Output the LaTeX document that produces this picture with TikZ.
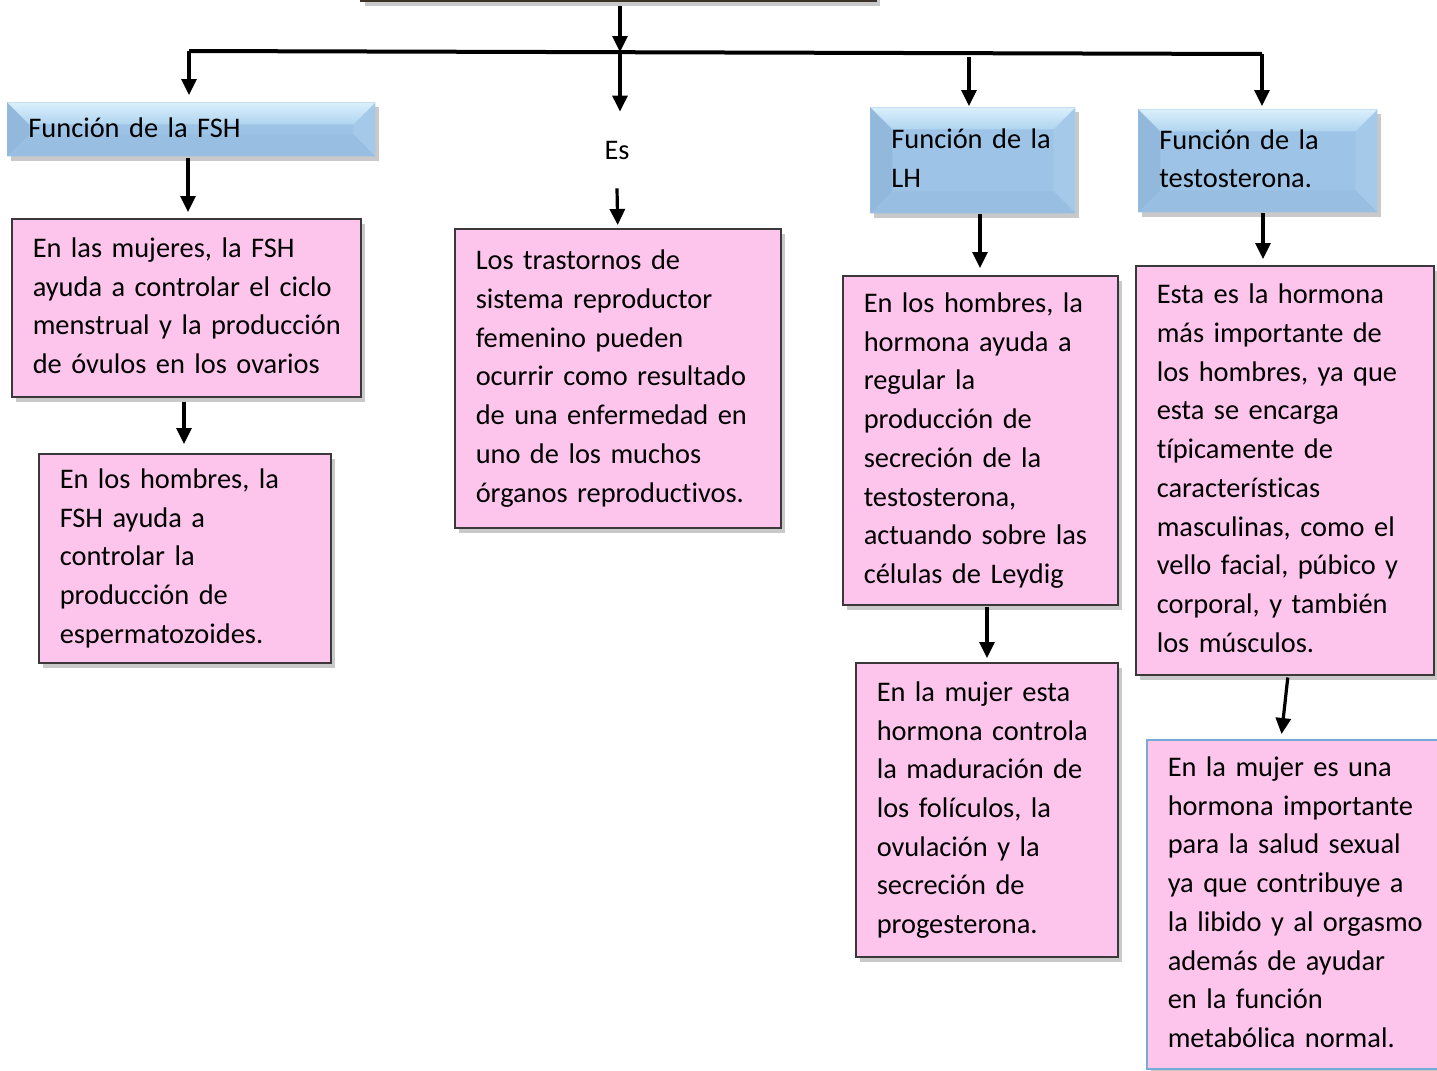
\documentclass[tikz,border=0pt]{standalone}
\usepackage{fontspec}
\setmainfont[Ligatures={NoCommon}]{Carlito}
\usetikzlibrary{arrows.meta,shadows,calc}
\definecolor{pinkfill}{RGB}{253,196,236}
\definecolor{pinkborder}{RGB}{60,56,58}
\definecolor{lightblueborder}{RGB}{120,170,215}
\definecolor{face}{RGB}{157,195,230}
\definecolor{bevtopA}{RGB}{218,240,252}
\definecolor{bevtopB}{RGB}{176,212,239}
\definecolor{bevleft}{RGB}{146,184,220}
\definecolor{bevright}{RGB}{165,201,232}
\definecolor{bevbottom}{RGB}{152,190,225}
\definecolor{topborder}{RGB}{60,50,40}
\newcommand{\txtfont}{\fontsize{14.2}{19.35}\selectfont}
\newcommand{\boxtext}[1]{\begin{tabular}{@{}l@{}}#1\end{tabular}}
\tikzset{
  shad/.style={drop shadow={shadow xshift=2pt,shadow yshift=-2.5pt,opacity=0.3,fill=black!70}},
  pinkbox/.style={draw=pinkborder,line width=0.75pt,fill=pinkfill,anchor=north west,
    inner xsep=10.5pt,inner ysep=2pt,align=left,font=\txtfont,shad},
  bluebox/.style={fill=face,anchor=north west,inner xsep=10.5pt,inner ysep=2pt,align=left,
    font=\txtfont,shad,
    path picture={
      \fill[bevleft] let \p1=(path picture bounding box.south west),\p2=(path picture bounding box.north east) in
        (\x1,\y1) -- (\x1,\y2) -- (\x1+11pt,\y2-11pt) -- (\x1+11pt,\y1+11pt) -- cycle;
      \fill[bevright] let \p1=(path picture bounding box.south west),\p2=(path picture bounding box.north east) in
        (\x2,\y1) -- (\x2,\y2) -- (\x2-11pt,\y2-11pt) -- (\x2-11pt,\y1+11pt) -- cycle;
      \fill[bevbottom] let \p1=(path picture bounding box.south west),\p2=(path picture bounding box.north east) in
        (\x1,\y1) -- (\x2,\y1) -- (\x2-11pt,\y1+11pt) -- (\x1+11pt,\y1+11pt) -- cycle;
      \shade[top color=bevtopA,bottom color=bevtopB] let \p1=(path picture bounding box.south west),\p2=(path picture bounding box.north east) in
        (\x1,\y2) -- (\x2,\y2) -- (\x2-11pt,\y2-11pt) -- (\x1+11pt,\y2-11pt) -- cycle;
    }},
  arr/.style={-{Triangle[width=7.5pt,length=8pt]},line width=1.6pt},
  bar/.style={line width=2pt},
}
\begin{document}
\begin{tikzpicture}[x=0.5pt,y=-0.5pt]
\useasboundingbox (0,0) rectangle (1437,1071);
% top (cut) box
\node[draw=topborder,line width=1pt,fill=white,shad,anchor=south west,minimum width=257.5pt,minimum height=30pt,inner sep=0pt] (top) at (360,1.5) {};
% blue heading boxes
\node[bluebox,minimum width=184pt,minimum height=27pt,text width=163pt] (fsh) at (7,102) {\boxtext{Función de la FSH}};
\node[bluebox,minimum width=102.5pt,minimum height=53pt,text width=81.5pt] (lh) at (870,107) {\boxtext{Función de la\\LH}};
\node[bluebox,minimum width=119.5pt,minimum height=51.5pt,text width=98.5pt] (tb) at (1138,109) {\boxtext{Función de la\\testosterona.}};
% Es label
\node[font=\txtfont,minimum height=38pt,inner sep=0pt] (es) at (617,150) {Es};
% pink boxes
\node[pinkbox,minimum width=174.5pt,minimum height=89pt,text width=153.5pt] (p1) at (11,218)
 {\boxtext{En las mujeres, la FSH\\ayuda a controlar el ciclo\\menstrual y la producción\\de óvulos en los ovarios}};
\node[pinkbox,minimum width=146pt,minimum height=104.5pt,text width=125pt] (p2) at (38,453)
 {\boxtext{En los hombres, la\\FSH ayuda a\\controlar la\\producción de\\espermatozoides.}};
\node[pinkbox,minimum width=163pt,minimum height=149.5pt,text width=142pt] (mid) at (454,228)
 {\boxtext{Los trastornos de\\sistema reproductor\\femenino pueden\\ocurrir como resultado\\de una enfermedad en\\uno de los muchos\\órganos reproductivos.}};
\node[pinkbox,minimum width=137.5pt,minimum height=164.5pt,text width=116.5pt] (lhp) at (842,275)
 {\boxtext{En los hombres, la\\hormona ayuda a\\regular la\\producción de\\secreción de la\\testosterona,\\actuando sobre las\\células de Leydig}};
\node[pinkbox,minimum width=131pt,minimum height=147pt,text width=110pt] (lh2) at (855,662)
 {\boxtext{En la mujer esta\\hormona controla\\la maduración de\\los folículos, la\\ovulación y la\\secreción de\\progesterona.}};
\node[pinkbox,minimum width=149pt,minimum height=204.5pt,text width=128pt] (tp) at (1135,265)
 {\boxtext{Esta es la hormona\\más importante de\\los hombres, ya que\\esta se encarga\\típicamente de\\características\\masculinas, como el\\vello facial, púbico y\\corporal, y también\\los músculos.}};
\node[pinkbox,draw=lightblueborder,minimum width=147pt,minimum height=164.5pt,text width=126pt] (t2) at (1146,739)
 {\boxtext{En la mujer es una\\hormona importante\\para la salud sexual\\ya que contribuye a\\la libido y al orgasmo\\además de ayudar\\en la función\\metabólica normal.}};
% connector coordinates
\coordinate (j) at (620,52);
\coordinate (bl) at (189,51);
\coordinate (br) at (1262,54);
\coordinate (b3) at (969,57);
\coordinate (x188) at (188,0);
\coordinate (x184) at (184,0);
\coordinate (x980) at (980,0);
\coordinate (x987) at (987,0);
\coordinate (x1263) at (1263,0);
\coordinate (x1288) at (1288,0);
\coordinate (x1281) at (1281,0);
% connectors
\draw[bar] (bl) -- (br);
\draw[arr,shorten <=2pt] (top.south -| j) -- (j);
\draw[arr,shorten >=3.5pt] (bl) -- (fsh.north -| bl);
\draw[arr] (j) -- (es.north -| j);
\draw[arr,shorten >=0.5pt] (b3) -- (lh.north -| b3);
\draw[arr,shorten >=1.5pt] (br) -- (tb.north -| br);
\draw[arr,shorten >=1.5pt] (es.south) -- (mid.north);
\draw[arr,shorten <=0.5pt,shorten >=3pt] (fsh.south -| x188) -- (p1.north -| x188);
\draw[arr,shorten <=2pt,shorten >=4.5pt] (p1.south -| x184) -- (p2.north -| x184);
\draw[arr,shorten >=3.5pt] (lh.south -| x980) -- (lhp.north -| x980);
\draw[arr,shorten <=0.5pt,shorten >=2pt] (lhp.south -| x987) -- (lh2.north -| x987);
\draw[arr,shorten >=3pt] (tb.south -| x1263) -- (tp.north -| x1263);
\draw[arr,shorten <=1pt,shorten >=2.5pt] (tp.south -| x1288) -- (t2.north -| x1281);
\end{tikzpicture}
\end{document}
